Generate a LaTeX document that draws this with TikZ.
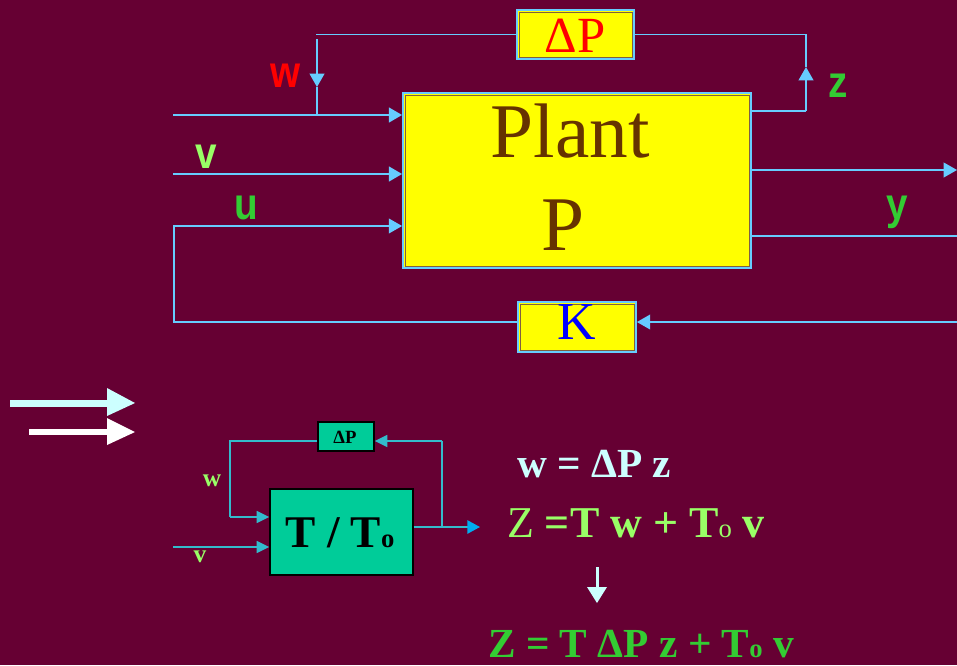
\documentclass[tikz,border=0pt]{standalone}
\usepackage{fontspec}
\setmainfont{Liberation Serif}
\setsansfont{Liberation Sans}
\usetikzlibrary{arrows.meta}
\definecolor{bg}{HTML}{660033}
\definecolor{lineblue}{HTML}{66CCFF}
\definecolor{planttext}{HTML}{663300}
\definecolor{boxyellow}{HTML}{FFFF00}
\definecolor{innerline}{HTML}{806040}
\definecolor{lblgreen}{HTML}{33CC33}
\definecolor{lightgreen}{HTML}{99FF66}
\definecolor{tealbox}{HTML}{00CC99}
\definecolor{teal2}{HTML}{33BBCC}
\definecolor{lightcyan}{HTML}{CCFFFF}
\newcommand{\fs}[1]{\fontsize{#1}{#1}\selectfont}
\begin{document}
\begin{tikzpicture}[x=0.75pt,y=-0.75pt,
  ybox/.style={draw=lineblue, line width=1.3pt, fill=boxyellow, inner sep=0pt},
  gbox/.style={draw=black, line width=1.1pt, fill=tealbox, inner sep=0pt},
  ln/.style={draw=lineblue, line width=1.4pt},
  inl/.style={draw=lineblue, line width=2pt},
  tl/.style={draw=teal2, line width=1.2pt},
  tip/.style={-{Triangle[length=10pt,width=11pt]}},
  btip/.style={-{Triangle[length=9.5pt,width=9pt]}},
  slbl/.style={font=\sffamily\bfseries\fs{29}},
  txt/.style={inner sep=0pt, anchor=base}
]
\fill[bg] (0,0) rectangle (957,665);
\useasboundingbox (0,0) rectangle (957,665);

% ---------- upper diagram ----------
\node[ybox, minimum width=261pt, minimum height=131.25pt] (P) at (577,180.5) {};
\draw[innerline, line width=0.6pt] ([xshift=2.2pt,yshift=-2.2pt]P.north west) rectangle ([xshift=-2.2pt,yshift=2.2pt]P.south east);
\node[txt, text=planttext, font=\fs{58}] (Pt1) at (570,157) {Plant};
\node[txt, text=planttext, font=\fs{58}] (Pt2) at (563,250) {P};

\node[ybox, minimum width=87.75pt, minimum height=36.75pt] (dpT) at (575.5,34.5) {};
\draw[innerline, line width=0.6pt] ([xshift=2.2pt,yshift=-2.2pt]dpT.north west) rectangle ([xshift=-2.2pt,yshift=2.2pt]dpT.south east);
\node[txt, text=red, font=\fs{38}] (dpTt) at (575,52) {ΔP};

\node[ybox, minimum width=88.5pt, minimum height=37.5pt] (K) at (577,327) {};
\draw[innerline, line width=0.6pt] ([xshift=2.2pt,yshift=-2.2pt]K.north west) rectangle ([xshift=-2.2pt,yshift=2.2pt]K.south east);
\node[txt, text=blue, font=\fs{40}] (Kt) at (577,339) {K};

% coordinates
\coordinate (win) at (173,115);
\coordinate (wj) at (317,115);
\coordinate (wtop) at (317,39);
\coordinate (wmid) at (317,87);
\coordinate (wc) at (315.5,34.5);
\coordinate (vin) at (173,174);
\coordinate (kin) at (957,322);
\coordinate (ul) at (174,322);
\coordinate (uu) at (174,226);
\coordinate (zo) at (751,111);
\coordinate (zc) at (806,111);
\coordinate (zmid) at (806,67);
\coordinate (zt) at (806,34.5);
\coordinate (yo) at (957,170);
\coordinate (ya) at (957,236);

\draw[inl, tip] (win) -- (P.west |- win);
\draw[ln] (dpT.west) -- (wc);
\draw[ln, tip] (wtop) -- (wmid);
\draw[ln] (wmid) -- (wj);
\draw[inl, tip] (vin) -- (P.west |- vin);
\draw[ln, tip] (kin) -- (K.east |- kin);
\draw[ln] (K.west |- kin) -- (ul) -- (uu) -- ([xshift=-10pt]P.west |- uu);
\draw[ln, tip] (uu) -- (P.west |- uu);
\draw[ln] (P.east |- zo) -- (zc);
\draw[ln, tip] (zc) -- (zmid);
\draw[ln] (zmid) -- (zt) -- (dpT.east);
\draw[ln, tip] (P.east |- yo) -- (yo);
\draw[ln] (P.east |- ya) -- (ya);

\node[slbl, text=red] (lw) at (286,76) {\scalebox{1}[1.15]{w}};
\node[slbl, text=lightgreen] (lv) at (206,157) {\scalebox{1}[1.15]{v}};
\node[slbl, text=lblgreen] (lu) at (246,208) {\scalebox{1}[1.15]{u}};
\node[slbl, text=lblgreen] (lz) at (838,86) {\scalebox{1}[1.15]{z}};
\node[slbl, text=lblgreen] (ly) at (897,212) {\scalebox{1}[1.15]{y}};

% ---------- double arrow ----------
\fill[lightcyan] (10,400) rectangle (108,407);
\fill[lightcyan] (107,388) -- (135,403) -- (107,416) -- cycle;
\fill[white] (29,429) rectangle (108,435);
\fill[white] (107,418) -- (135,432) -- (107,445) -- cycle;

% ---------- lower diagram ----------
\node[gbox, minimum width=42pt, minimum height=21.75pt] (dpB) at (346,436.5) {};
\node[txt, font=\bfseries\fs{14}] (dpBt) at (345,443) {ΔP};
\node[gbox, minimum width=107.25pt, minimum height=64.5pt] (T) at (341.5,532) {};
\node[txt, font=\bfseries\fs{34}] (Tt) at (340,547) {T / T{\fs{20}o}};

\coordinate (bl1) at (230,441);
\coordinate (bl2) at (230,517);
\coordinate (bo) at (480,527);
\coordinate (bb) at (442,527);
\coordinate (bt) at (442,441);
\coordinate (bv) at (173,547);

\draw[tl] (dpB.west |- bl1) -- (bl1) -- (bl2);
\draw[tl, btip] (bl2) -- (T.west |- bl2);
\draw[tl, -{Triangle[length=9.5pt,width=10pt,color=cyan]}] (T.east |- bo) -- (bo);
\draw[tl] (bb) -- (bt);
\draw[tl, btip] (bt) -- (dpB.east |- bt);
\draw[tl, btip] (bv) -- (T.west |- bv);

\node[font=\bfseries\fs{19}, text=lightgreen] (bw) at (212,481) {w};
\node[font=\bfseries\fs{19}, text=lightgreen] (bvl) at (200,557) {v};

% ---------- equations ----------
\node[txt, text=lightcyan, font=\bfseries\fs{31}] (eq1) at (594,477) {w = ΔP z};
\node[txt, text=lightgreen, font=\bfseries\fs{33}] (eq2) at (636,537) {{\mdseries Z} =T w + T{\mdseries\fs{20}o} v};
\fill[lightcyan] (595.5,567) rectangle (598.5,590);
\fill[lightcyan] (587,587) -- (607,587) -- (597,603) -- cycle;
\node[txt, text=lblgreen, font=\bfseries\fs{31}] (eq3) at (641,657) {Z = T ΔP z + T{\fs{20}o} v};
\end{tikzpicture}
\end{document}
